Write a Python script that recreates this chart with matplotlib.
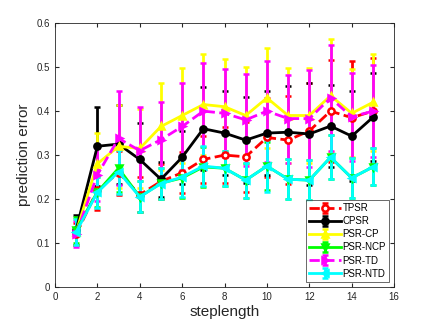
import numpy as np
import matplotlib.pyplot as plt

plt.rcParams['font.family'] = ['Liberation Sans', 'DejaVu Sans']

steps = np.arange(1, 16)

# mean prediction error per method
tpsr = [0.12, 0.22, 0.26, 0.21, 0.24, 0.26, 0.29, 0.30, 0.296, 0.34, 0.334, 0.355, 0.40, 0.385, 0.40]
cpsr = [0.13, 0.32, 0.325, 0.29, 0.245, 0.295, 0.36, 0.35, 0.334, 0.35, 0.352, 0.348, 0.366, 0.343, 0.386]
psr_cp = [0.125, 0.28, 0.32, 0.315, 0.365, 0.39, 0.415, 0.41, 0.39, 0.43, 0.39, 0.39, 0.435, 0.395, 0.42]
psr_ncp = [0.13, 0.216, 0.27, 0.205, 0.236, 0.248, 0.273, 0.27, 0.243, 0.275, 0.245, 0.243, 0.295, 0.248, 0.273]
psr_td = [0.12, 0.255, 0.338, 0.31, 0.335, 0.365, 0.40, 0.395, 0.38, 0.40, 0.383, 0.383, 0.43, 0.387, 0.40]
psr_ntd = [0.125, 0.215, 0.262, 0.205, 0.235, 0.25, 0.275, 0.27, 0.243, 0.275, 0.245, 0.243, 0.295, 0.248, 0.273]

# error bar half widths
tpsr_err = [0.025, 0.045, 0.05, 0.04, 0.04, 0.047, 0.054, 0.064, 0.08, 0.09, 0.1, 0.11, 0.116, 0.13, 0.12]
cpsr_err = [0.034, 0.09, 0.09, 0.083, 0.04, 0.06, 0.095, 0.096, 0.097, 0.096, 0.105, 0.116, 0.094, 0.103, 0.1]
psr_cp_err = [0.03, 0.07, 0.095, 0.09, 0.1, 0.107, 0.115, 0.108, 0.11, 0.113, 0.107, 0.107, 0.128, 0.1, 0.11]
psr_ncp_err = [0.03, 0.035, 0.055, 0.035, 0.035, 0.045, 0.045, 0.04, 0.04, 0.055, 0.045, 0.045, 0.05, 0.045, 0.042]
psr_td_err = [0.03, 0.06, 0.107, 0.1, 0.085, 0.1, 0.11, 0.1, 0.105, 0.115, 0.1, 0.11, 0.12, 0.1, 0.105]
psr_ntd_err = [0.03, 0.035, 0.05, 0.035, 0.035, 0.045, 0.045, 0.04, 0.04, 0.06, 0.045, 0.045, 0.05, 0.045, 0.042]

labels = ['TPSR', 'CPSR', 'PSR-CP', 'PSR-NCP', 'PSR-TD', 'PSR-NTD']

fig = plt.figure(figsize=(4.36, 3.31), dpi=100)
ax = fig.add_axes([0.126, 0.133, 0.778, 0.797])

kw = dict(linewidth=2, elinewidth=2, capsize=2.5, capthick=2, markersize=4.5, markeredgewidth=1.8)
ax.errorbar(steps, tpsr, yerr=tpsr_err, fmt='o--', color='red', mfc='white', label=labels[0], **kw)
ax.errorbar(steps, cpsr, yerr=cpsr_err, fmt='o-', color='black', label=labels[1], **kw)
ax.errorbar(steps, psr_cp, yerr=psr_cp_err, fmt='^-', color='yellow', label=labels[2], **kw)
ax.errorbar(steps, psr_ncp, yerr=psr_ncp_err, fmt='v-', color='#00ff00', label=labels[3], **kw)
ax.errorbar(steps, psr_td, yerr=psr_td_err, fmt='>--', color='magenta', label=labels[4], **kw)
ax.errorbar(steps, psr_ntd, yerr=psr_ntd_err, fmt='<-', color='cyan', label=labels[5], **kw)

ax.set_xlim(0, 16)
ax.set_ylim(0, 0.6)
ax.set_xticks(np.arange(0, 17, 2))
ax.set_yticks(np.arange(0, 0.61, 0.1))
ax.set_yticklabels(['0', '0.1', '0.2', '0.3', '0.4', '0.5', '0.6'])
ax.tick_params(direction='in', labelsize=7, colors='#262626', length=3, top=True, right=True)
for s in ax.spines.values():
    s.set_color('#262626')
    s.set_linewidth(0.6)

ax.set_xlabel('steplength', fontsize=11, color='#262626', labelpad=2)
ax.set_ylabel('prediction error', fontsize=11, color='#262626', labelpad=4)

leg = ax.legend(loc='lower right', fontsize=7, fancybox=False, edgecolor='#262626',
                handlelength=3.2, borderpad=0.35, labelspacing=0.32, handletextpad=0.2,
                borderaxespad=0.5)
leg.get_frame().set_linewidth(0.6)

fig.savefig('out.png', dpi=100)
